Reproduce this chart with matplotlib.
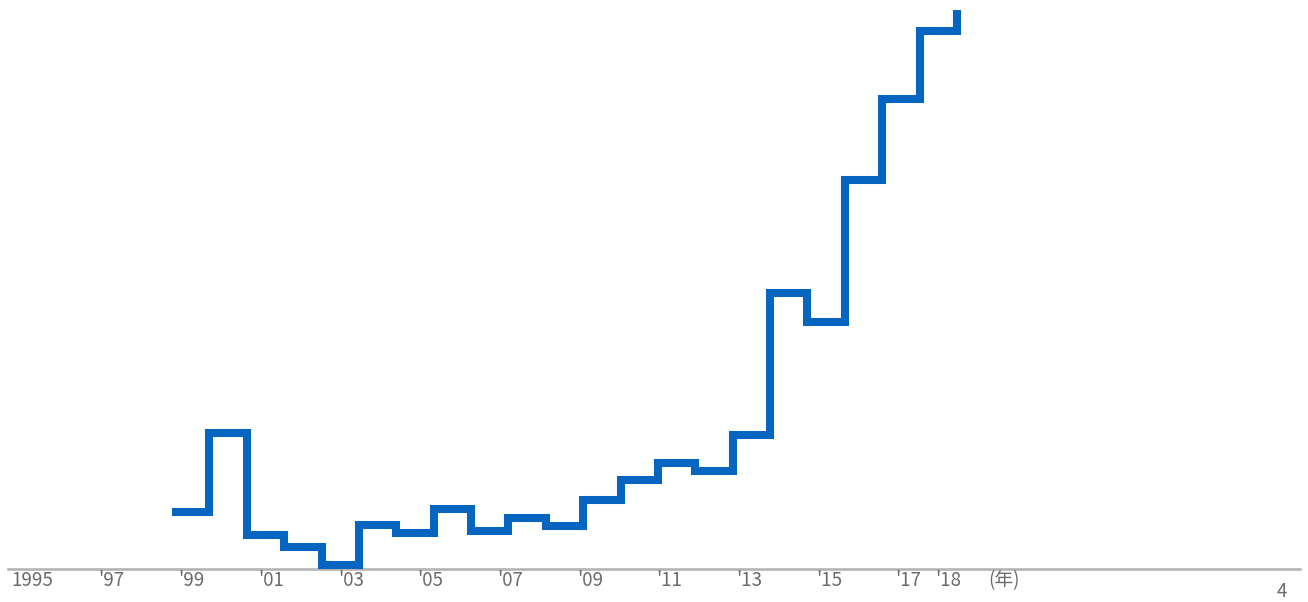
import matplotlib.pyplot as plt

plt.rcParams['font.family'] = ['Noto Sans CJK JP', 'DejaVu Sans']

# one step per year (arbitrary units)
years = list(range(1999, 2021))
values = [57, 136, 34, 22, 4, 44, 36, 60, 38, 51, 43, 69, 89, 106, 98, 134,
          276, 247, 389, 470, 538, 559]

tick_years = [1995, 1997, 1999, 2001, 2003, 2005, 2007, 2009, 2011, 2013,
              2015, 2017, 2018]
tick_labels = ['1995', "'97", "'99", "'01", "'03", "'05", "'07", "'09",
               "'11", "'13", "'15", "'17", "'18"]

W, H = 1308, 602
base = 569          # baseline, pixels from top
step_px = 37.38     # width of one step
year_px = 39.85     # spacing of the year labels
grey = '#6b6b6b'

fig = plt.figure(figsize=(W / 100, H / 100), dpi=100)

# step line
ax = fig.add_axes([0, 0, 1, 1])
ax.plot(years, values, drawstyle='steps-post', color='#0565C0', lw=5.8,
        solid_joinstyle='miter', solid_capstyle='butt', zorder=3)
ax.axhline(0, xmin=8 / W, xmax=1300 / W, color='#b4b4b4', lw=1.9, zorder=2)
ax.set_xlim(1999 - 172 / step_px, 1999 + (W - 172) / step_px)
ax.set_ylim(-(H - base), base)
ax.axis('off')

# year labels, drawn on their own scale
ax2 = fig.add_axes([0, (H - base) / H, 1, base / H])
ax2.patch.set_alpha(0)
for s in ax2.spines.values():
    s.set_visible(False)
ax2.set_xlim(1995 - 32 / year_px, 1995 + (W - 32) / year_px)
ax2.set_yticks([])
ax2.set_xticks(tick_years)
ax2.set_xticklabels(tick_labels)
ax2.tick_params(axis='x', length=0, pad=1, labelsize=13.5, labelcolor=grey)

fig.text(1004 / W, 1 - 586 / H, '(年)', ha='center', va='baseline',
         fontsize=13.5, color=grey)
fig.text(1282 / W, 1 - 597 / H, '4', ha='center', va='baseline',
         fontsize=13.5, color=grey)

fig.savefig('out.png', dpi=100)
